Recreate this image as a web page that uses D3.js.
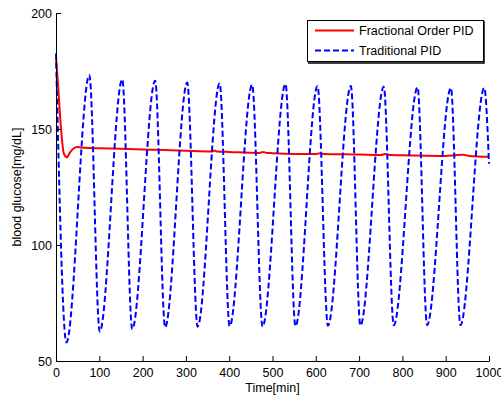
<!DOCTYPE html>
<html>
<head>
<meta charset="utf-8">
<script src="https://cdn.jsdelivr.net/npm/d3@7"></script>
<style>
  body { margin: 0; background: #fff; }
  svg { display: block; font-family: "Liberation Sans", Arial, sans-serif; }
</style>
</head>
<body>
<svg></svg>
<script>
let width = 501, height = 400

// blood glucose, fractional order PID (time in min, value in mg/dL)
let fopidTime  = [0, 2, 5, 10, 14, 18, 25, 32, 40, 50, 65, 100, 200, 300, 360, 366, 372, 400, 470, 478, 486, 500, 600, 610, 618, 700, 750, 760, 770, 800, 900, 925, 940, 955, 1000]
let fopidValue = [180, 176, 168, 154, 145, 139.5, 137.8, 139.8, 141.5, 142.2, 141.9, 141.7, 141.2, 140.6, 140.3, 140.7, 140.3, 140.1, 139.7, 140.1, 139.7, 139.6, 139.2, 139.6, 139.2, 139, 138.8, 139.2, 138.8, 138.7, 138.4, 138.8, 138.9, 138.4, 138]

// blood glucose, traditional PID (peaks and troughs)
let pidTime  = [0, 24, 77, 101, 153, 176, 229, 252, 303, 327, 378, 401, 453, 477, 530, 553, 604, 628, 681, 703, 757, 780, 835, 857, 912, 934, 989, 1000]
let pidValue = [182.5, 58, 173.3, 62.6, 171.4, 63.7, 170.8, 64.5, 170, 64.8, 169.7, 65, 169.1, 64.8, 169.4, 65, 168.5, 65.2, 168.5, 65.3, 168.2, 65.4, 168, 65.5, 167.7, 65.5, 167.7, 135]

let xTicks = [0, 100, 200, 300, 400, 500, 600, 700, 800, 900, 1000]
let yTicks = [50, 100, 150, 200]
let legendNames = ["Fractional Order PID", "Traditional PID"]

let svg = d3.select("svg").attr("width", width).attr("height", height)

let x = d3.scaleLinear().domain([0, 1000]).range([56, 489])
let y = d3.scaleLinear().domain([50, 200]).range([361, 13])

// lines
let line = d3.line()
    .x(d => x(d[0]))
    .y(d => y(d[1]))
    .curve(d3.curveMonotoneX)

svg.append("path")
    .datum(d3.zip(fopidTime, fopidValue))
    .attr("d", line)
    .attr("fill", "none")
    .attr("stroke", "#ff0000")
    .attr("stroke-width", 2)

svg.append("path")
    .datum(d3.zip(pidTime, pidValue))
    .attr("d", line)
    .attr("fill", "none")
    .attr("stroke", "#0000ff")
    .attr("stroke-width", 2)
    .attr("stroke-dasharray", "6,3")

// axes, ticks pointing inward
let xAxis = svg.append("g")
    .attr("transform", `translate(0,${y(50)})`)
    .call(d3.axisBottom(x).tickValues(xTicks).tickFormat(d3.format("d"))
        .tickSizeInner(-5).tickSizeOuter(0).tickPadding(7))
let yAxis = svg.append("g")
    .attr("transform", `translate(${x(0)},0)`)
    .call(d3.axisLeft(y).tickValues(yTicks).tickFormat(d3.format("d"))
        .tickSizeInner(-5).tickSizeOuter(0).tickPadding(4))

svg.selectAll(".domain").attr("stroke", "#000")
svg.selectAll(".tick line").attr("stroke", "#000")
svg.selectAll(".tick text")
    .attr("fill", "#000")
    .style("font-family", "'Liberation Sans', Arial, sans-serif")
    .style("font-size", "12.5px")
xAxis.selectAll(".tick text").attr("dy", "0.71em")

svg.append("text")
    .attr("x", (x(0) + x(1000)) / 2)
    .attr("y", 392)
    .attr("text-anchor", "middle")
    .style("font-size", "12.5px")
    .text("Time[min]")

svg.append("text")
    .attr("transform", `translate(21,${(y(50) + y(200)) / 2}) rotate(-90)`)
    .attr("text-anchor", "middle")
    .style("font-size", "12.5px")
    .text("blood glucose[mg/dL]")

// legend
let legend = svg.append("g")
legend.append("rect")
    .attr("x", 307.5).attr("y", 20.5)
    .attr("width", 176).attr("height", 41)
    .attr("fill", "#fff").attr("stroke", "#000").attr("stroke-width", 1)
legend.append("path")
    .attr("d", "M484,21V63H308")
    .attr("fill", "none").attr("stroke", "#000").attr("stroke-width", 1.5)

let legendColors = ["#ff0000", "#0000ff"]
let legendDash = [null, "6,3"]
legendNames.forEach((name, i) => {
    let ly = 30.5 + i * 20
    legend.append("line")
        .attr("x1", 315).attr("x2", 354)
        .attr("y1", ly).attr("y2", ly)
        .attr("stroke", legendColors[i])
        .attr("stroke-width", 2)
        .attr("stroke-dasharray", legendDash[i])
    legend.append("text")
        .attr("x", 359).attr("y", ly + 4.5)
        .style("font-size", "12.5px")
        .text(name)
})
</script>
</body>
</html>
